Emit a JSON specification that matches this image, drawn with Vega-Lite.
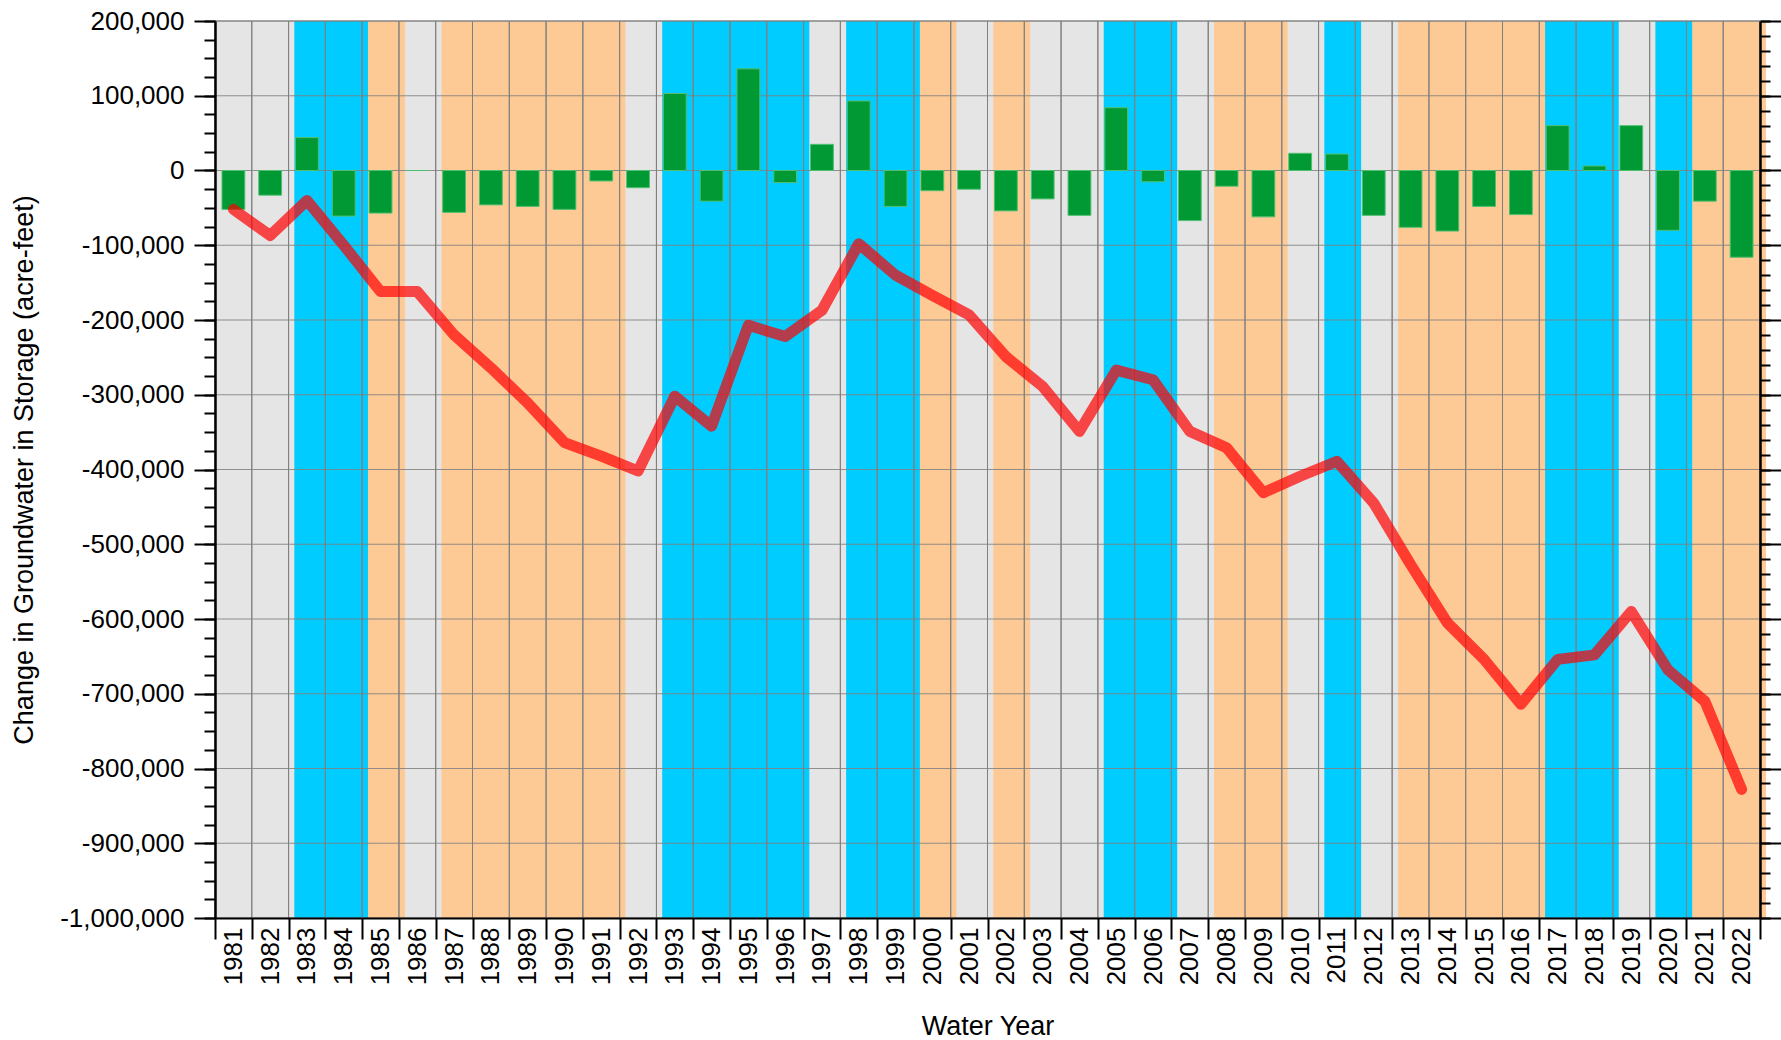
{
  "$schema": "https://vega.github.io/schema/vega-lite/v6.json",
  "width": 1545,
  "height": 897,
  "autosize": {"type": "none"},
  "padding": {"left": 215, "top": 21, "right": 21, "bottom": 122},
  "background": "white",
  "config": {"font": "Liberation Sans", "view": {"stroke": null}, "axis": {"zindex": 1}},
  "data": {"values": [
    {"year": 1981, "type": "normal", "change": -52000, "cum": -52000},
    {"year": 1982, "type": "normal", "change": -33000, "cum": -87000},
    {"year": 1983, "type": "wet", "change": 44000, "cum": -40000},
    {"year": 1984, "type": "wet", "change": -61000, "cum": -100000},
    {"year": 1985, "type": "dry", "change": -57000, "cum": -162000},
    {"year": 1986, "type": "normal", "change": 0, "cum": -162000},
    {"year": 1987, "type": "dry", "change": -56000, "cum": -220000},
    {"year": 1988, "type": "dry", "change": -46000, "cum": -264000},
    {"year": 1989, "type": "dry", "change": -48000, "cum": -311000},
    {"year": 1990, "type": "dry", "change": -52000, "cum": -364000},
    {"year": 1991, "type": "dry", "change": -14000, "cum": -382000},
    {"year": 1992, "type": "normal", "change": -23000, "cum": -402000},
    {"year": 1993, "type": "wet", "change": 103000, "cum": -302000},
    {"year": 1994, "type": "wet", "change": -41000, "cum": -342000},
    {"year": 1995, "type": "wet", "change": 136000, "cum": -207000},
    {"year": 1996, "type": "wet", "change": -16000, "cum": -222000},
    {"year": 1997, "type": "normal", "change": 35000, "cum": -187000},
    {"year": 1998, "type": "wet", "change": 93000, "cum": -98000},
    {"year": 1999, "type": "wet", "change": -48000, "cum": -140000},
    {"year": 2000, "type": "dry", "change": -27000, "cum": -167000},
    {"year": 2001, "type": "normal", "change": -25000, "cum": -193000},
    {"year": 2002, "type": "dry", "change": -54000, "cum": -249000},
    {"year": 2003, "type": "normal", "change": -38000, "cum": -289000},
    {"year": 2004, "type": "normal", "change": -60000, "cum": -349000},
    {"year": 2005, "type": "wet", "change": 84000, "cum": -267000},
    {"year": 2006, "type": "wet", "change": -15000, "cum": -280000},
    {"year": 2007, "type": "normal", "change": -67000, "cum": -349000},
    {"year": 2008, "type": "dry", "change": -21000, "cum": -371000},
    {"year": 2009, "type": "dry", "change": -62000, "cum": -431000},
    {"year": 2010, "type": "normal", "change": 23000, "cum": -409000},
    {"year": 2011, "type": "wet", "change": 22000, "cum": -389000},
    {"year": 2012, "type": "normal", "change": -60000, "cum": -445000},
    {"year": 2013, "type": "dry", "change": -76000, "cum": -527000},
    {"year": 2014, "type": "dry", "change": -81000, "cum": -605000},
    {"year": 2015, "type": "dry", "change": -48000, "cum": -654000},
    {"year": 2016, "type": "dry", "change": -59000, "cum": -714000},
    {"year": 2017, "type": "wet", "change": 60000, "cum": -654000},
    {"year": 2018, "type": "wet", "change": 6000, "cum": -648000},
    {"year": 2019, "type": "normal", "change": 60000, "cum": -590000},
    {"year": 2020, "type": "wet", "change": -80000, "cum": -668000},
    {"year": 2021, "type": "dry", "change": -41000, "cum": -710000},
    {"year": 2022, "type": "dry", "change": -116000, "cum": -828000}
  ]},
  "layer": [
    {
      "mark": {"type": "bar"},
      "encoding": {
        "x": {"field": "year", "type": "ordinal", "scale": {"paddingInner": 0, "paddingOuter": 0},
          "axis": {"title": "Water Year", "tickBand": "extent", "tickSize": 21, "tickColor": "black", "tickWidth": 2, "domainColor": "black", "domainWidth": 2, "labelAngle": 270, "labelFontSize": 26, "labelColor": "black", "labelPadding": -12, "titleFontSize": 27, "titleFontWeight": "normal", "titleColor": "black", "titlePadding": 29, "grid": false, "zindex": 1}},
        "y": {"datum": 200000, "type": "quantitative", "scale": {"domain": [-1000000, 200000], "nice": false, "zero": false},
          "axis": {"orient": "left", "values": [-1000000, -900000, -800000, -700000, -600000, -500000, -400000, -300000, -200000, -100000, 0, 100000, 200000],
            "tickSize": 21, "tickWidth": 2, "tickColor": "black", "domainColor": "black", "domainWidth": 2.5, "grid": false,
            "labelFontSize": 26, "labelColor": "black", "labelPadding": 10,
            "labelExpr": "replace(format(datum.value, ',.0f'), '−', '-')",
            "title": "Change in Groundwater in Storage (acre-feet)", "titleFontSize": 27, "titleFontWeight": "normal", "titleColor": "black", "titlePadding": 21, "zindex": 1}},
        "y2": {"datum": -1000000},
        "color": {"field": "type", "type": "nominal", "scale": {"domain": ["normal", "wet", "dry"], "range": ["#e5e5e5", "#00ccff", "#fdca96"]}, "legend": null}
      }
    },
    {
      "mark": {"type": "bar", "xOffset": 6},
      "encoding": {
        "x": {"field": "year", "type": "ordinal", "scale": {"paddingInner": 0, "paddingOuter": 0},
          "axis": {"title": "Water Year", "tickBand": "extent", "tickSize": 21, "tickColor": "black", "tickWidth": 2, "domainColor": "black", "domainWidth": 2, "labelAngle": 270, "labelFontSize": 26, "labelColor": "black", "labelPadding": -12, "titleFontSize": 27, "titleFontWeight": "normal", "titleColor": "black", "titlePadding": 29, "grid": false, "zindex": 1}},
        "y": {"datum": 200000, "type": "quantitative", "scale": {"domain": [-1000000, 200000], "nice": false, "zero": false},
          "axis": {"orient": "left", "values": [-1000000, -975000, -950000, -925000, -900000, -875000, -850000, -825000, -800000, -775000, -750000, -725000, -700000, -675000, -650000, -625000, -600000, -575000, -550000, -525000, -500000, -475000, -450000, -425000, -400000, -375000, -350000, -325000, -300000, -275000, -250000, -225000, -200000, -175000, -150000, -125000, -100000, -75000, -50000, -25000, 0, 25000, 50000, 75000, 100000, 125000, 150000, 175000, 200000],
            "tickSize": 11, "tickWidth": 2, "tickColor": "black", "domain": false, "labels": false, "grid": false, "title": null, "zindex": 1}},
        "y2": {"datum": -1000000},
        "color": {"field": "type", "type": "nominal", "scale": {"domain": ["normal", "wet", "dry"], "range": ["#e5e5e5", "#00ccff", "#fdca96"]}, "legend": null}
      }
    },
    {
      "mark": {"type": "bar", "fillOpacity": 0, "stroke": "#808080", "strokeWidth": 1},
      "encoding": {
        "x": {"field": "year", "type": "ordinal", "scale": {"paddingInner": 0, "paddingOuter": 0},
          "axis": {"title": "Water Year", "tickBand": "extent", "tickSize": 21, "tickColor": "black", "tickWidth": 2, "domainColor": "black", "domainWidth": 2, "labelAngle": 270, "labelFontSize": 26, "labelColor": "black", "labelPadding": -12, "titleFontSize": 27, "titleFontWeight": "normal", "titleColor": "black", "titlePadding": 29, "grid": false, "zindex": 1}},
        "y": {"datum": 200000, "type": "quantitative", "scale": {"domain": [-1000000, 200000], "nice": false, "zero": false},
          "axis": {"orient": "right", "values": [-1000000, -900000, -800000, -700000, -600000, -500000, -400000, -300000, -200000, -100000, 0, 100000, 200000],
            "tickSize": 21, "tickWidth": 2, "tickColor": "black", "domainColor": "black", "domainWidth": 2.5, "labels": false, "grid": false, "title": null, "zindex": 1}},
        "y2": {"datum": -1000000}
      }
    },
    {
      "data": {"values": [{"g": -900000}, {"g": -800000}, {"g": -700000}, {"g": -600000}, {"g": -500000}, {"g": -400000}, {"g": -300000}, {"g": -200000}, {"g": -100000}, {"g": 0}, {"g": 100000}, {"g": 200000}]},
      "mark": {"type": "rule", "stroke": "#808080", "strokeWidth": 1.2, "strokeOpacity": 0.85},
      "encoding": {
        "y": {"field": "g", "type": "quantitative", "scale": {"domain": [-1000000, 200000], "nice": false, "zero": false},
          "axis": {"orient": "right", "values": [-1000000, -980000, -960000, -940000, -920000, -900000, -880000, -860000, -840000, -820000, -800000, -780000, -760000, -740000, -720000, -700000, -680000, -660000, -640000, -620000, -600000, -580000, -560000, -540000, -520000, -500000, -480000, -460000, -440000, -420000, -400000, -380000, -360000, -340000, -320000, -300000, -280000, -260000, -240000, -220000, -200000, -180000, -160000, -140000, -120000, -100000, -80000, -60000, -40000, -20000, 0, 20000, 40000, 60000, 80000, 100000, 120000, 140000, 160000, 180000, 200000],
            "tickSize": 10, "tickWidth": 2, "tickColor": "black", "domain": false, "labels": false, "grid": false, "title": null, "zindex": 1}}
      }
    },
    {
      "mark": {"type": "bar", "color": "#009933", "stroke": "#4fbf6f", "strokeWidth": 1, "width": {"band": 0.62}},
      "encoding": {
        "x": {"field": "year", "type": "ordinal", "scale": {"paddingInner": 0, "paddingOuter": 0},
          "axis": {"title": "Water Year", "tickBand": "extent", "tickSize": 21, "tickColor": "black", "tickWidth": 2, "domainColor": "black", "domainWidth": 2, "labelAngle": 270, "labelFontSize": 26, "labelColor": "black", "labelPadding": -12, "titleFontSize": 27, "titleFontWeight": "normal", "titleColor": "black", "titlePadding": 29, "grid": false, "zindex": 1}},
        "y": {"field": "change", "type": "quantitative", "scale": {"domain": [-1000000, 200000], "nice": false, "zero": false}, "axis": null},
        "y2": {"datum": 0}
      }
    },
    {
      "mark": {"type": "line", "color": "#ff0000", "opacity": 0.7, "strokeWidth": 11, "strokeCap": "round", "strokeJoin": "round"},
      "encoding": {
        "x": {"field": "year", "type": "ordinal", "scale": {"paddingInner": 0, "paddingOuter": 0},
          "axis": {"title": "Water Year", "tickBand": "extent", "tickSize": 21, "tickColor": "black", "tickWidth": 2, "domainColor": "black", "domainWidth": 2, "labelAngle": 270, "labelFontSize": 26, "labelColor": "black", "labelPadding": -12, "titleFontSize": 27, "titleFontWeight": "normal", "titleColor": "black", "titlePadding": 29, "grid": false, "zindex": 1}},
        "y": {"field": "cum", "type": "quantitative", "scale": {"domain": [-1000000, 200000], "nice": false, "zero": false}, "axis": null}
      }
    }
  ],
  "resolve": {"scale": {"y": "shared"}, "axis": {"y": "independent"}}
}
